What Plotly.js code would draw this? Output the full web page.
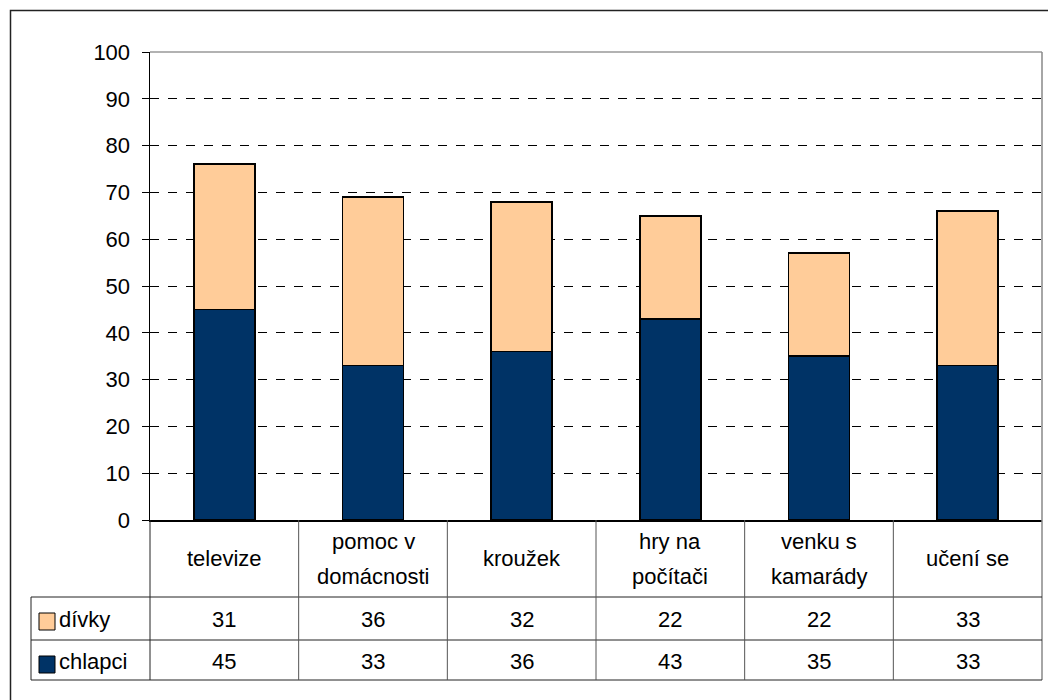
<!DOCTYPE html>
<html>
<head>
<meta charset="utf-8">
<script src="https://cdn.plot.ly/plotly-3.0.1.min.js"></script>
<style>html,body{margin:0;padding:0;background:#fff;}#chart{width:1048px;height:700px;}</style>
</head>
<body>
<div id="chart"></div>
<script>
// ---- data ----
var categories = ["televize", "pomoc v domácnosti", "kroužek", "hry na počítači", "venku s kamarády", "učení se"];
var categoryLabelLines = [["televize"], ["pomoc v", "domácnosti"], ["kroužek"], ["hry na", "počítači"], ["venku s", "kamarády"], ["učení se"]];
var seriesNames = ["dívky", "chlapci"];
var divky = [31, 36, 32, 22, 22, 33];
var chlapci = [45, 33, 36, 43, 35, 33];
var yTicks = [0, 10, 20, 30, 40, 50, 60, 70, 80, 90, 100];

// ---- geometry helpers (pixel -> paper) ----
var W = 1048, H = 700;
var mL = 150, mR = 6, mT = 52, mB = 180;
var pw = W - mL - mR, ph = H - mT - mB;
function px(x) { return (x - mL) / pw; }
function py(y) { return (H - mB - y) / ph; }

var FONT = "Arial, 'Liberation Sans', sans-serif";
var FS = 22;
var colD = "#FFCC99", colC = "#003366";
var n = categories.length;

var traces = [
  {type: "bar", name: seriesNames[1], x: categories, y: chlapci,
   marker: {color: colC, line: {color: "#000", width: 1.8}}, width: 0.41, hoverinfo: "x+y+name"},
  {type: "bar", name: seriesNames[0], x: categories, y: divky,
   marker: {color: colD, line: {color: "#000", width: 1.8}}, width: 0.41, hoverinfo: "x+y+name"}
];

var shapes = [];
var annotations = [];
var lineC = "#222";
function hline(x0, x1, y, c, w) { shapes.push({type: "line", xref: "paper", yref: "paper", x0: px(x0), x1: px(x1), y0: py(y), y1: py(y), line: {color: c || lineC, width: w || 1}}); }
function vline(x, y0, y1, c, w) { shapes.push({type: "line", xref: "paper", yref: "paper", x0: px(x), x1: px(x), y0: py(y0), y1: py(y1), line: {color: c || lineC, width: w || 1}}); }

// outer frame
shapes.push({type: "rect", xref: "paper", yref: "paper", x0: px(10.5), x1: px(1070), y0: py(720), y1: py(10.5), line: {color: "#222", width: 1.5}});
// plot area border: top & right gray
hline(150, 1042, 52, "#999", 1.5);
vline(1042, 52, 680, "#888", 1.5);

// table rows
var yHeadBot = 597, yRow1Bot = 640, yRow2Bot = 680, xTabL = 31;
hline(xTabL, 1042, yHeadBot);
hline(xTabL, 1042, yRow1Bot);
hline(xTabL, 1042, yRow2Bot);
vline(xTabL, yHeadBot, yRow2Bot);
vline(150, 520, yRow2Bot);
for (var i = 1; i < n; i++) {
  var xb = mL + pw * i / n;
  vline(xb, 520, yRow2Bot, "#555");
}

// table text
function addText(xv, yPix, txt) {
  annotations.push({xref: "x", yref: "paper", x: xv, y: py(yPix), text: txt, showarrow: false,
    font: {family: FONT, size: FS, color: "#000"}, xanchor: "center", yanchor: "middle", align: "center"});
}
for (var i = 0; i < n; i++) {
  var lines = categoryLabelLines[i];
  if (lines.length === 1) {
    addText(categories[i], 558, lines[0]);
  } else {
    addText(categories[i], 541, lines[0]);
    addText(categories[i], 576, lines[1]);
  }
  addText(categories[i], 619, String(divky[i]));
  addText(categories[i], 661, String(chlapci[i]));
}

// legend keys in the table
shapes.push({type: "rect", xref: "paper", yref: "paper", x0: px(39), x1: px(55), y0: py(630), y1: py(613), fillcolor: colD, line: {color: "#000", width: 1}});
shapes.push({type: "rect", xref: "paper", yref: "paper", x0: px(39), x1: px(55), y0: py(673), y1: py(656), fillcolor: colC, line: {color: "#000", width: 1}});
annotations.push({xref: "paper", yref: "paper", x: px(57), y: py(619), text: seriesNames[0], showarrow: false,
  font: {family: FONT, size: FS, color: "#000"}, xanchor: "left", yanchor: "middle"});
annotations.push({xref: "paper", yref: "paper", x: px(57), y: py(661), text: seriesNames[1], showarrow: false,
  font: {family: FONT, size: FS, color: "#000"}, xanchor: "left", yanchor: "middle"});

var layout = {
  width: W, height: H,
  margin: {l: mL, r: mR, t: mT, b: mB, pad: 0},
  paper_bgcolor: "#fff", plot_bgcolor: "#fff",
  barmode: "stack",
  showlegend: false,
  font: {family: FONT, size: FS, color: "#000"},
  xaxis: {type: "category", range: [-0.5, n - 0.5], showticklabels: false, ticks: "",
    showgrid: false, zeroline: false, showline: true, linecolor: "#000", linewidth: 1.5, fixedrange: true},
  yaxis: {range: [0, 100], tickvals: yTicks, ticks: "outside", ticklen: 7, tickcolor: "#000", tickwidth: 1,
    ticklabelstandoff: 7,
    showgrid: true, gridcolor: "#000", griddash: "dash", gridwidth: 1, zeroline: false,
    showline: true, linecolor: "#000", linewidth: 1.5,
    tickfont: {family: FONT, size: FS, color: "#000"}, fixedrange: true},
  shapes: shapes,
  annotations: annotations
};

Plotly.newPlot("chart", traces, layout, {displayModeBar: false, staticPlot: true});
</script>
</body>
</html>
